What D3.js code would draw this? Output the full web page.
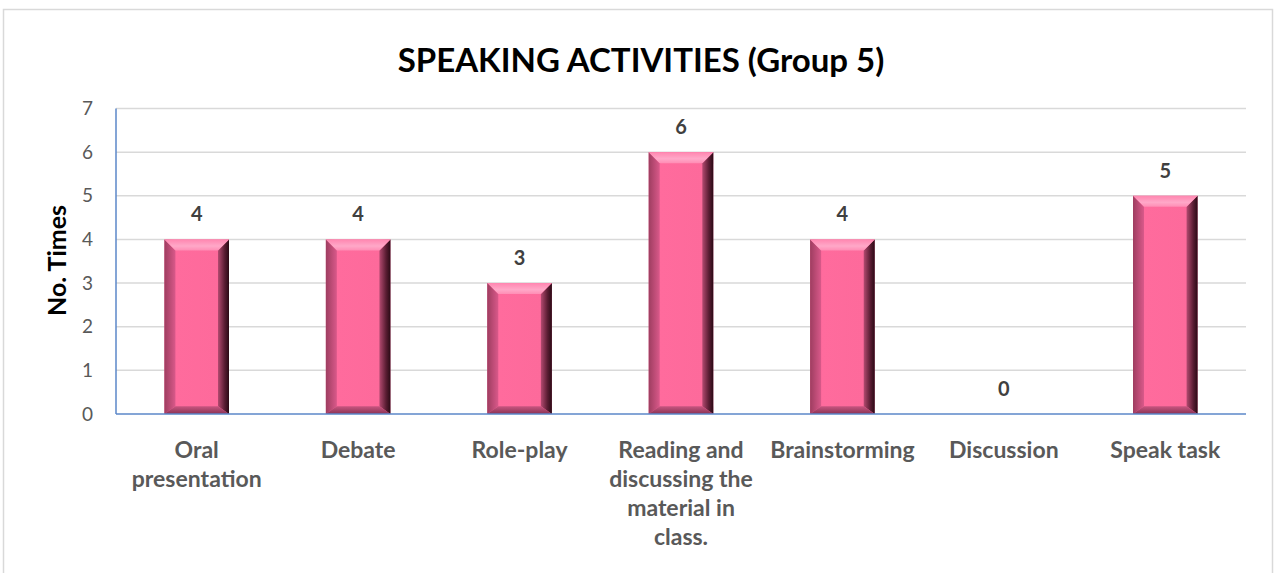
<!DOCTYPE html>
<html>
<head>
<meta charset="utf-8">
<script src="https://cdn.jsdelivr.net/npm/d3@7"></script>
<style>
  body { margin: 0; background: #fff; }
  svg { display: block; font-family: Lato, "Open Sans", sans-serif; }
</style>
</head>
<body>
<div class="vis-barchart"></div>
<script>
const categories = [
  ["Oral", "presentation"],
  ["Debate"],
  ["Role-play"],
  ["Reading and", "discussing the", "material in", "class."],
  ["Brainstorming"],
  ["Discussion"],
  ["Speak task"]
];
const values = [4, 4, 3, 6, 4, 0, 5];
const yTicks = [0, 1, 2, 3, 4, 5, 6, 7];

const W = 1275, H = 573;
const margin = { top: 108.5, right: 30, bottom: 159, left: 116 };
const width = 1246 - margin.left;
const height = 414 - margin.top;

const svg = d3.select(".vis-barchart").append("svg")
  .attr("width", W).attr("height", H);

// chart border
svg.append("rect")
  .attr("x", 3.5).attr("y", 9.5)
  .attr("width", 1269).attr("height", 600)
  .attr("fill", "none").attr("stroke", "#d9d9d9").attr("stroke-width", 1.5);

const defs = svg.append("defs");
const lg = (id, x2, y2, stops) => {
  const g = defs.append("linearGradient").attr("id", id)
    .attr("x1", 0).attr("y1", 0).attr("x2", x2).attr("y2", y2);
  stops.forEach(s => g.append("stop").attr("offset", s[0]).attr("stop-color", s[1]));
};
lg("body", 1, 0, [["0%", "#e25a88"], ["15%", "#ff6b9d"], ["85%", "#fd6a9b"], ["100%", "#e05888"]]);
lg("left", 1, 0, [["0%", "#9e3d60"], ["100%", "#d9598a"]]);
lg("right", 1, 0, [["0%", "#b34a70"], ["60%", "#5a1d33"], ["100%", "#2a0a15"]]);
lg("top", 0, 1, [["0%", "#ff86b0"], ["60%", "#ffa8c8"], ["100%", "#ff8db5"]]);
lg("bottom", 0, 1, [["0%", "#c85580"], ["100%", "#8a3354"]]);

const g = svg.append("g")
  .attr("transform", "translate(" + margin.left + "," + margin.top + ")");

const x = d3.scaleBand()
  .domain(categories.map((d, i) => i))
  .range([0, width])
  .paddingInner(0.6).paddingOuter(0.3);

const y = d3.scaleLinear().domain([0, 7]).range([height, 0]);

// gridlines
g.append("g").selectAll("line")
  .data(yTicks.slice(1))
  .enter().append("line")
  .attr("x1", 0).attr("x2", width)
  .attr("y1", d => y(d)).attr("y2", d => y(d))
  .attr("stroke", "#d9d9d9").attr("stroke-width", 1.5);

// y tick labels
g.append("g").selectAll("text")
  .data(yTicks)
  .enter().append("text")
  .attr("x", -23).attr("y", d => y(d))
  .attr("dy", "0.35em")
  .attr("text-anchor", "end")
  .attr("font-size", 19)
  .attr("fill", "#595959")
  .text(d => d);

// y axis title
g.append("text")
  .attr("transform", "rotate(-90)")
  .attr("x", -152).attr("y", -59)
  .attr("dy", "0.35em")
  .attr("text-anchor", "middle")
  .attr("font-size", 25).attr("font-weight", "bold")
  .attr("fill", "#000")
  .text("No. Times");

// bars with bevel
const b = 11;
const bars = g.append("g").selectAll("g")
  .data(values.map((v, i) => ({ i, v })).filter(d => d.v > 0))
  .enter().append("g");

bars.append("rect")
  .attr("x", d => x(d.i)).attr("y", d => y(d.v))
  .attr("width", x.bandwidth()).attr("height", d => y(0) - y(d.v))
  .attr("fill", "url(#body)");

const poly = (pts) => pts.map(p => p.join(",")).join(" ");
bars.append("polygon").attr("fill", "url(#left)")
  .attr("points", d => {
    const x0 = x(d.i), t = y(d.v), bt = y(0);
    return poly([[x0, t], [x0 + b, t + b], [x0 + b, bt - b * 0.7], [x0, bt]]);
  });
bars.append("polygon").attr("fill", "url(#right)")
  .attr("points", d => {
    const x1 = x(d.i) + x.bandwidth(), t = y(d.v), bt = y(0);
    return poly([[x1, t], [x1 - b, t + b], [x1 - b, bt - b * 0.7], [x1, bt]]);
  });
bars.append("polygon").attr("fill", "url(#top)")
  .attr("points", d => {
    const x0 = x(d.i), x1 = x0 + x.bandwidth(), t = y(d.v);
    return poly([[x0, t], [x1, t], [x1 - b, t + b], [x0 + b, t + b]]);
  });
bars.append("polygon").attr("fill", "url(#bottom)")
  .attr("points", d => {
    const x0 = x(d.i), x1 = x0 + x.bandwidth(), bt = y(0);
    return poly([[x0, bt], [x1, bt], [x1 - b, bt - b * 0.7], [x0 + b, bt - b * 0.7]]);
  });

// value labels
g.append("g").selectAll("text")
  .data(values)
  .enter().append("text")
  .attr("x", (d, i) => x(i) + x.bandwidth() / 2)
  .attr("y", d => y(d) - 25)
  .attr("dy", "0.35em")
  .attr("text-anchor", "middle")
  .attr("font-size", 20).attr("font-weight", "bold")
  .attr("fill", "#404040")
  .text(d => d);

// axes lines
g.append("line")
  .attr("x1", 0).attr("x2", 0).attr("y1", 0).attr("y2", height)
  .attr("stroke", "#5b87c8").attr("stroke-width", 1.5);
g.append("line")
  .attr("x1", 0).attr("x2", width).attr("y1", height).attr("y2", height)
  .attr("stroke", "#5b87c8").attr("stroke-width", 1.5);

// category labels
const cat = g.append("g").selectAll("text")
  .data(categories)
  .enter().append("text")
  .attr("x", (d, i) => x(i) + x.bandwidth() / 2)
  .attr("y", height + 36)
  .attr("text-anchor", "middle")
  .attr("font-size", 23).attr("font-weight", "bold")
  .attr("fill", "#595959");
cat.selectAll("tspan")
  .data(d => d)
  .enter().append("tspan")
  .attr("x", function () { return d3.select(this.parentNode).attr("x"); })
  .attr("dy", (d, i) => i === 0 ? "0.35em" : "29px")
  .text(d => d);

// title
svg.append("text")
  .attr("x", 641).attr("y", 60)
  .attr("dy", "0.35em")
  .attr("text-anchor", "middle")
  .attr("font-size", 33).attr("font-weight", "bold")
  .attr("fill", "#000")
  .text("SPEAKING ACTIVITIES (Group 5)");
</script>
</body>
</html>
